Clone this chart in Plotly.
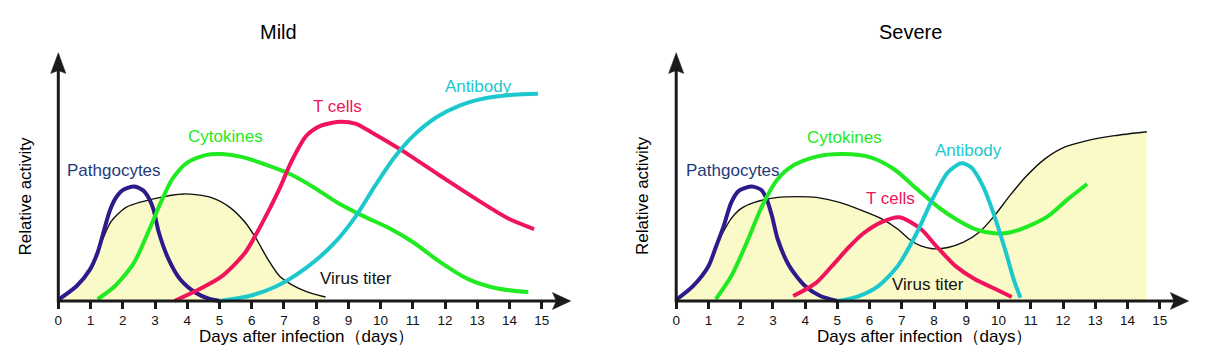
import plotly.graph_objects as go

# ---------------- data ----------------
days_ticks = list(range(0, 16))

# Mild panel
mild_phago_x = [0, 0.57, 0.99, 1.22, 1.40, 1.58, 1.76, 2.0, 2.35, 2.62, 2.8, 2.95, 3.12, 3.42, 3.78, 4.25, 4.67, 5.02]
mild_phago_y = [0.5, 6.0, 12.8, 19.5, 27.5, 35.6, 40.9, 44.5, 46.0, 44.5, 41.5, 36.9, 27.5, 16.8, 8.7, 3.4, 0.9, 0]

mild_virus_x = [0, 0.57, 0.99, 1.22, 1.40, 1.64, 2.1, 2.95, 3.9, 4.73, 5.32, 5.8, 6.15, 6.5, 6.86, 7.22, 7.7, 8.29]
mild_virus_y = [0, 6.0, 12.8, 19.5, 25.5, 32.0, 37.6, 41.0, 43.0, 41.6, 37.6, 31.5, 24.8, 16.8, 10.0, 6.7, 3.8, 1.6]

mild_cyto_x = [1.22, 1.76, 2.35, 2.83, 3.18, 3.54, 4.01, 4.6, 5.08, 5.68, 6.5, 7.22, 7.93, 8.65, 9.48, 10.3, 11.02, 11.85, 12.68, 13.63, 14.58]
mild_cyto_y = [0.7, 6.0, 15.4, 28.9, 39.6, 49.0, 55.7, 58.7, 59.0, 57.9, 54.5, 50.8, 45.6, 39.6, 34.0, 29.0, 23.5, 15.6, 9.0, 5.0, 3.6]

mild_tcell_x = [3.6, 4.37, 5.08, 5.8, 6.39, 6.86, 7.22, 7.7, 8.17, 8.77, 9.24, 9.71, 10.67, 11.85, 13.04, 13.99, 14.76]
mild_tcell_y = [0, 4.7, 10.0, 19.5, 32.9, 45.0, 55.7, 66.4, 70.5, 72.0, 71.1, 67.8, 60.4, 50.3, 40.3, 32.9, 28.9]

mild_anti_x = [5.0, 5.92, 6.75, 7.7, 8.53, 9.24, 9.83, 10.43, 11.02, 11.73, 12.45, 13.28, 14.11, 14.88]
mild_anti_y = [0, 2.0, 5.8, 13.4, 22.8, 34.2, 46.3, 57.7, 66.4, 73.8, 78.5, 81.5, 82.8, 83.2]

# Severe panel
sev_phago_x = [0, 0.52, 1.0, 1.24, 1.47, 1.71, 1.95, 2.35, 2.65, 2.82, 2.97, 3.15, 3.51, 4.0, 4.47, 5.01]
sev_phago_y = [0.5, 6.0, 14.0, 22.0, 30.0, 39.6, 44.3, 46.0, 44.5, 40.5, 34.2, 24.8, 14.0, 6.0, 2.0, 0]

sev_virus_x = [0, 0.52, 1.0, 1.24, 1.47, 1.7, 2.0, 2.43, 3.15, 3.75, 4.35, 5.07, 5.79, 6.39, 6.87, 7.23, 7.59, 7.95, 8.43, 8.9, 9.39, 9.87, 10.35, 10.83, 11.43, 12.03, 12.75, 13.6, 14.6]
sev_virus_y = [0, 6.0, 14.0, 22.0, 28.0, 33.0, 37.0, 39.6, 41.6, 41.9, 41.6, 39.6, 36.2, 32.9, 28.9, 24.8, 22.1, 21.0, 21.5, 23.5, 27.5, 34.2, 42.3, 49.7, 57.0, 61.7, 64.4, 66.4, 68.0]

sev_cyto_x = [1.23, 1.71, 2.19, 2.67, 3.15, 3.63, 4.35, 5.19, 6.03, 6.75, 7.47, 8.07, 8.67, 9.27, 9.87, 10.35, 10.95, 11.55, 12.15, 12.75]
sev_cyto_y = [0.7, 10.0, 23.5, 38.3, 49.0, 54.4, 58.0, 59.0, 57.7, 53.0, 45.0, 38.3, 32.9, 28.9, 27.2, 27.5, 30.2, 34.2, 40.9, 47.0]

sev_tcell_x = [3.63, 4.35, 4.83, 5.35, 5.79, 6.39, 6.93, 7.59, 8.07, 8.67, 9.27, 9.87, 10.41]
sev_tcell_y = [2.0, 7.4, 14.0, 21.5, 27.0, 31.8, 33.6, 28.9, 22.0, 14.0, 8.7, 5.0, 1.6]

sev_anti_x = [5.01, 5.67, 6.27, 6.87, 7.47, 7.95, 8.43, 8.85, 9.15, 9.51, 9.87, 10.23, 10.47, 10.68]
sev_anti_y = [0, 2.0, 6.0, 14.0, 27.5, 40.9, 51.7, 55.3, 53.7, 46.3, 34.2, 19.5, 8.7, 1.3]

panel_titles = ["Mild", "Severe"]
x_title = "Days after infection（days）"
y_title = "Relative activity"

# ---------------- style ----------------
FONT = "Liberation Sans, Arial, sans-serif"
C_PHAGO = "#2e1a8a"
C_PHAGO_TXT = "#1f3a7a"
C_CYTO = "#22ea22"
C_TCELL = "#f0145a"
C_ANTI = "#1cc8cc"
C_FILL = "#fafac8"
C_AX = "#1a1a1a"
SMOOTH = 0.75

W, H = 1206, 352
PX_DAY = 32.233
PX_UNIT = 2.49
AX_Y = 301.0


def xdom(x0_px, r0, r1):
    return [(x0_px + r0 * PX_DAY) / W, (x0_px + r1 * PX_DAY) / W]


YR = [-14, 120]
ydom = [1 - (AX_Y - YR[0] * PX_UNIT) / H, 1 - (AX_Y - YR[1] * PX_UNIT) / H]

fig = go.Figure()

panels = [
    dict(xa="x", ya="y",
         phago=(mild_phago_x, mild_phago_y), virus=(mild_virus_x, mild_virus_y),
         cyto=(mild_cyto_x, mild_cyto_y), tcell=(mild_tcell_x, mild_tcell_y),
         anti=(mild_anti_x, mild_anti_y),
         labels=[("Pathgocytes", 1.73, 52.6, C_PHAGO_TXT), ("Cytokines", 5.2, 66.0, C_CYTO),
                 ("T cells", 8.65, 78.3, C_TCELL), ("Antibody", 13.05, 86.3, C_ANTI),
                 ("Virus titer", 9.24, 9.2, "#111111")]),
    dict(xa="x2", ya="y2",
         phago=(sev_phago_x, sev_phago_y), virus=(sev_virus_x, sev_virus_y),
         cyto=(sev_cyto_x, sev_cyto_y), tcell=(sev_tcell_x, sev_tcell_y),
         anti=(sev_anti_x, sev_anti_y),
         labels=[("Pathgocytes", 1.75, 52.3, C_PHAGO_TXT), ("Cytokines", 5.22, 65.7, C_CYTO),
                 ("Antibody", 9.07, 60.4, C_ANTI), ("T cells", 6.65, 41.2, C_TCELL),
                 ("Virus titer", 7.81, 6.7, "#111111")]),
]
colors = {"phago": C_PHAGO, "cyto": C_CYTO, "tcell": C_TCELL, "anti": C_ANTI}
order = ["phago", "cyto", "tcell", "anti"]

shapes = []
annotations = []
for i, p in enumerate(panels):
    vx, vy = p["virus"]
    fig.add_trace(go.Scatter(x=vx, y=vy, xaxis=p["xa"], yaxis=p["ya"], mode="lines",
                             line=dict(color="#111111", width=1.4, shape="spline", smoothing=SMOOTH),
                             fill="tozeroy", fillcolor=C_FILL, showlegend=False, hoverinfo="skip"))
    for k in order:
        cx, cy = p[k]
        fig.add_trace(go.Scatter(x=cx, y=cy, xaxis=p["xa"], yaxis=p["ya"], mode="lines",
                                 line=dict(color=colors[k], width=4, shape="spline", smoothing=SMOOTH),
                                 showlegend=False, hoverinfo="skip"))
    for txt, lx, ly, col in p["labels"]:
        annotations.append(dict(x=lx, y=ly, xref=p["xa"], yref=p["ya"], text=txt, showarrow=False,
                                xanchor="center", yanchor="middle",
                                font=dict(family=FONT, size=17, color=col)))
    xr, yr = p["xa"], p["ya"]
    # axis lines
    shapes.append(dict(type="line", xref=xr, yref=yr, x0=0, y0=0, x1=15.45, y1=0,
                       line=dict(color=C_AX, width=3)))
    shapes.append(dict(type="line", xref=xr, yref=yr, x0=0, y0=-0.6, x1=0, y1=93,
                       line=dict(color=C_AX, width=3)))
    # arrow heads
    shapes.append(dict(type="path", xref=xr, yref=yr,
                       path="M 15.9 0 L 15.33 3.4 L 15.45 0 L 15.33 -3.4 Z",
                       fillcolor=C_AX, line=dict(color=C_AX, width=0.5)))
    shapes.append(dict(type="path", xref=xr, yref=yr,
                       path="M 0 99.7 L 0.235 91.4 L 0 92.6 L -0.235 91.4 Z",
                       fillcolor=C_AX, line=dict(color=C_AX, width=0.5)))

    # panel texts (paper)
    cx_title = [278, 910][i]
    annotations.append(dict(x=cx_title / W, y=1 - 32.5 / H, xref="paper", yref="paper",
                            text=panel_titles[i], showarrow=False, xanchor="center", yanchor="middle",
                            font=dict(family=FONT, size=20, color="#000000")))
    annotations.append(dict(x=[25.5, 643][i] / W, y=1 - 196 / H, xref="paper", yref="paper",
                            text=y_title, textangle=-90, showarrow=False, xanchor="center",
                            yanchor="middle", font=dict(family=FONT, size=17, color="#000000")))
    annotations.append(dict(x=[306, 924][i] / W, y=1 - 336.5 / H, xref="paper", yref="paper",
                            text=x_title, showarrow=False, xanchor="center", yanchor="middle",
                            font=dict(family=FONT, size=17, color="#000000")))

axis_common = dict(showgrid=False, zeroline=False, showline=False)
tick_common = dict(anchor="free", position=1 - AX_Y / H, tickvals=days_ticks, ticks="outside",
                   ticklen=7, tickwidth=3, tickcolor=C_AX,
                   tickfont=dict(family=FONT, size=13.5, color="#111111"))
fig.update_layout(
    width=W, height=H, margin=dict(l=0, r=0, t=0, b=0),
    paper_bgcolor="white", plot_bgcolor="rgba(0,0,0,0)",
    shapes=shapes, annotations=annotations, showlegend=False,
    xaxis=dict(domain=xdom(58.3, -1.5, 16.5), range=[-1.5, 16.5], **tick_common, **axis_common),
    yaxis=dict(domain=ydom, range=YR, visible=False, anchor="x", **axis_common),
    xaxis2=dict(domain=xdom(676.2, -1.5, 16.3), range=[-1.5, 16.3], **tick_common, **axis_common),
    yaxis2=dict(domain=ydom, range=YR, visible=False, anchor="x2", **axis_common),
)

fig.write_html("out.html")
